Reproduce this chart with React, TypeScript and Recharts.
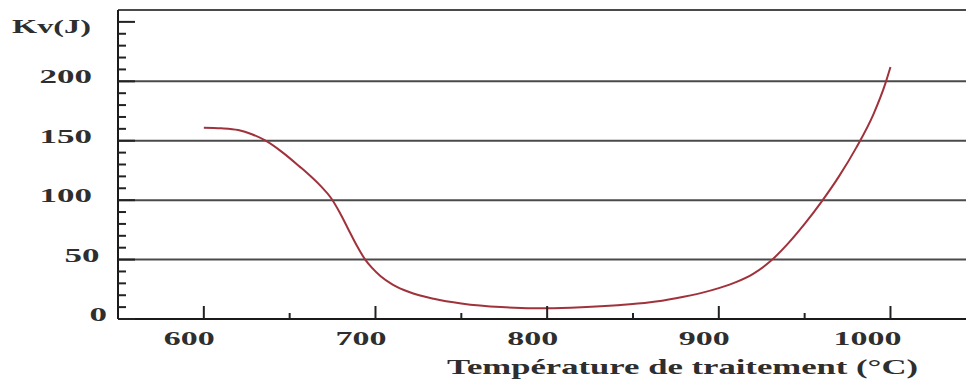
import React from "react";
import { LineChart, Line, XAxis, YAxis, ReferenceLine, Label } from "recharts";

const temperatures = [600, 610, 620, 628, 636, 646, 656, 660, 668, 674, 679, 684, 689, 694, 698, 703, 710, 720, 734, 750, 773, 800, 820, 841, 860, 875, 890, 900, 910, 920, 930, 940, 950, 960, 970, 980, 990, 997, 1000];
const kvValues = [161, 160.5, 159, 155.5, 150, 140, 128, 123, 112, 102, 90, 76, 62, 50, 43, 36, 29, 22.5, 17, 13, 10, 9, 9.8, 11.5, 14, 17.5, 22, 26, 31, 38, 48.5, 63, 80, 99, 120, 144, 172, 198, 212];

const xTicks = [600, 650, 700, 750, 800, 850, 900, 950, 1000];
const xLabelTicks = [600, 700, 800, 900, 1000];
const yTicks = [0, 10, 20, 30, 40, 50, 60, 70, 80, 90, 100, 110, 120, 130, 140, 150, 160, 170, 180, 190, 200, 210, 220, 230, 240, 250];
const yLabelTicks = [0, 50, 100, 150, 200];
const gridValues = [50, 100, 150, 200, 260];

const yAxisTitle = "Kv(J)";
const xAxisTitle = "Température de traitement (°C)";

const data = temperatures.map((t, i) => ({ t, kv: kvValues[i] }));

const FONT = "'Liberation Serif', 'Times New Roman', serif";
const TEXT = "#2e2e2e";

const YTick = (props: any) => {
  const { x, y, payload } = props;
  const v = payload.value as number;
  const major = v % 50 === 0;
  const label = yLabelTicks.includes(v) ? String(v) : null;
  const len = label ? label.length : 0;
  const endX = 92 + (3 - len) * 7.5;
  return (
    <g>
      <line x1={x} y1={y} x2={x + (major ? 17 : 8)} y2={y} stroke="#222" strokeWidth={2} />
      {label && (
        <text
          x={endX}
          y={y + 2}
          textAnchor="end"
          fontFamily={FONT}
          fontWeight="bold"
          fontSize={18}
          fill={TEXT}
          textLength={len * 17.5}
          lengthAdjust="spacingAndGlyphs"
        >
          {label}
        </text>
      )}
    </g>
  );
};

const XTick = (props: any) => {
  const { x, y, payload } = props;
  const v = payload.value as number;
  const label = xLabelTicks.includes(v) ? String(v) : null;
  return (
    <g>
      <line x1={x} y1={y} x2={x} y2={y - (label ? 13 : 6)} stroke="#222" strokeWidth={2} />
      {label && (
        <text
          x={x + 11}
          y={y + 26}
          textAnchor="end"
          fontFamily={FONT}
          fontWeight="bold"
          fontSize={18}
          fill={TEXT}
          textLength={label.length * 17}
          lengthAdjust="spacingAndGlyphs"
        >
          {label}
        </text>
      )}
    </g>
  );
};

const YTitle = () => (
  <text
    x={12}
    y={33}
    fontFamily={FONT}
    fontWeight="bold"
    fontSize={19}
    fill={TEXT}
    textLength={79}
    lengthAdjust="spacingAndGlyphs"
  >
    {yAxisTitle}
  </text>
);

const XTitle = () => (
  <text
    x={447}
    y={374}
    fontFamily={FONT}
    fontWeight="bold"
    fontSize={22}
    fill={TEXT}
    textLength={471}
    lengthAdjust="spacingAndGlyphs"
  >
    {xAxisTitle}
  </text>
);

export default function App() {
  return (
    <div style={{ position: "absolute", left: 0, top: 0, width: 966, height: 379, background: "#fff", overflow: "hidden" }}>
      <LineChart width={966} height={379} data={data} margin={{ top: 10, right: 0, bottom: 0, left: 0 }}>
        {gridValues.map((g) => (
          <ReferenceLine key={g} y={g} stroke="#4a4a4a" strokeWidth={2} ifOverflow="extendDomain" />
        ))}
        <XAxis
          dataKey="t"
          type="number"
          domain={[550, 1044]}
          allowDataOverflow
          ticks={xTicks}
          interval={0}
          height={60}
          tickSize={0}
          tickMargin={0}
          tickLine={false}
          tick={<XTick />}
          axisLine={{ stroke: "#1a1a1a", strokeWidth: 2 }}
        >
          <Label content={<XTitle />} />
        </XAxis>
        <YAxis
          type="number"
          domain={[0, 260]}
          allowDataOverflow
          ticks={yTicks}
          interval={0}
          width={118}
          tickSize={0}
          tickMargin={0}
          tickLine={false}
          tick={<YTick />}
          axisLine={{ stroke: "#1a1a1a", strokeWidth: 2 }}
        >
          <Label content={<YTitle />} />
        </YAxis>
        <Line
          type="monotone"
          dataKey="kv"
          stroke="#a0323c"
          strokeWidth={2}
          dot={false}
          isAnimationActive={false}
        />
      </LineChart>
    </div>
  );
}
